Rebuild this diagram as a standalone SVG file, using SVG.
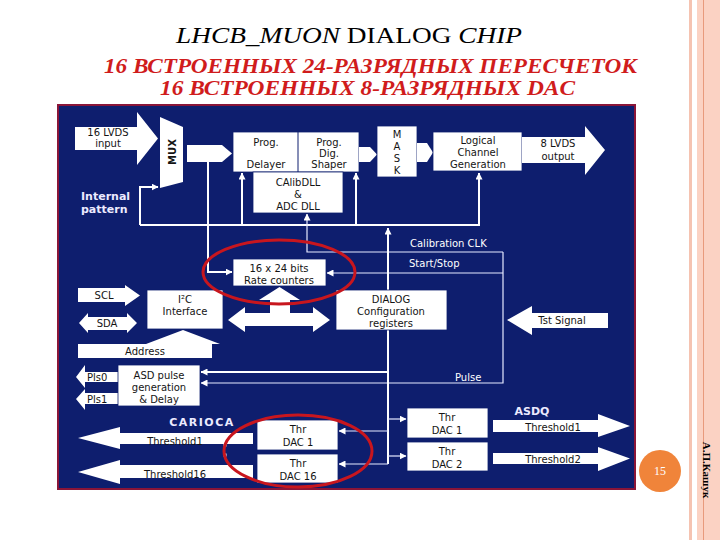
<svg xmlns="http://www.w3.org/2000/svg" width="720" height="540" viewBox="0 0 720 540">
<defs>
<marker id="ah" markerWidth="7" markerHeight="7" refX="6.5" refY="3.5" orient="auto" markerUnits="userSpaceOnUse"><path d="M0,0 L7,3.5 L0,7 z" fill="#ffffff"/></marker>
<style>
.box{fill:#ffffff;stroke:#0e1e6e;stroke-width:0.8}
.shape{fill:#ffffff}
.t{font-family:"DejaVu Sans",Verdana,sans-serif;font-size:10px;fill:#141414;text-anchor:middle}
.tw{font-family:"DejaVu Sans",Verdana,sans-serif;font-size:10px;fill:#ffffff}
.tb{font-family:"DejaVu Sans",Verdana,sans-serif;font-size:11px;font-weight:bold;fill:#ecebff}
.ln{fill:none;stroke:#ffffff;stroke-width:2}
.lt{fill:none;stroke:#e6e9ff;stroke-width:1.2}
.ell{fill:none;stroke:#c8161e;stroke-width:3}
.ru{font-family:"Liberation Serif","Times New Roman",serif;font-size:21px;font-weight:bold;font-style:italic;fill:#d01c1c}
</style>
</defs>
<rect width="720" height="540" fill="#ffffff"/>
<g id="slide-border">
<rect x="689" y="0" width="3" height="540" fill="#f5c3b1"/>
<rect x="697" y="0" width="23" height="540" fill="#fbd2c3"/>
<rect x="703" y="0" width="1" height="540" fill="#e89a7c"/>
</g>
<g id="title">
<text x="176" y="43" font-family="'Liberation Serif','Times New Roman',serif" font-size="24" fill="#000" textLength="346" lengthAdjust="spacingAndGlyphs"><tspan font-style="italic">LHCB_MUON</tspan> DIALOG <tspan font-style="italic">CHIP</tspan></text>
<text class="ru" x="104" y="73" textLength="533" lengthAdjust="spacingAndGlyphs">16 ВСТРОЕННЫХ 24-РАЗРЯДНЫХ ПЕРЕСЧЕТОК</text>
<text class="ru" x="160" y="95" textLength="415" lengthAdjust="spacingAndGlyphs">16 ВСТРОЕННЫХ 8-РАЗРЯДНЫХ DAC</text>
</g>
<rect id="chip" x="58" y="105" width="577" height="384" fill="#0e1e6e" stroke="#8a1538" stroke-width="2"/>

<g id="connectors">
<path class="ln" d="M140,225 V187 H158" marker-end="url(#ah)"/>
<path class="ln" d="M140,225 H479 V173" marker-end="url(#ah)"/>
<path class="ln" d="M242,225 V173" marker-end="url(#ah)"/>
<path class="ln" d="M356,225 V173" marker-end="url(#ah)"/>
<path class="ln" d="M208,162 V272 H232" marker-end="url(#ah)"/>
<path class="lt" d="M503,252 H307 V214" marker-end="url(#ah)"/>
<path class="lt" d="M503,273 H327" marker-end="url(#ah)"/>
<path class="lt" d="M503,252 V383 H201" marker-end="url(#ah)"/>
<path class="ln" d="M388,464 V228" marker-end="url(#ah)"/>
<path class="ln" d="M389,372 H201" marker-end="url(#ah)"/>
<path class="lt" d="M388,419 H406" marker-end="url(#ah)"/>
<path class="lt" d="M388,456 H406" marker-end="url(#ah)"/>
<path class="lt" d="M388,431 H339" marker-end="url(#ah)"/>
<path class="lt" d="M388,464 H339" marker-end="url(#ah)"/>
</g>

<g id="lvds-input">
<polygon class="shape" points="75,127 137,127 137,112 158,138.5 137,165 137,150 75,150"/>
<text class="t" x="108" y="136">16 LVDS</text>
<text class="t" x="108" y="147">input</text>
</g>
<g id="mux">
<polygon class="shape" points="160,117 183,127 183,182 160,188"/>
<text class="t" x="0" y="0" font-weight="bold" font-size="11" transform="translate(175.5,152) rotate(-90)">MUX</text>
</g>
<g id="mux-out"><polygon class="shape" points="187,145 222,145 232,153.5 222,162 187,162"/></g>
<g id="internal-pattern">
<text class="tb" x="81" y="200">Internal</text>
<text class="tb" x="81" y="213">pattern</text>
</g>
<g id="prog">
<rect class="box" x="233" y="132" width="126" height="40"/>
<line x1="298" y1="132" x2="298" y2="172" stroke="#0e1e6e" stroke-width="1"/>
<text class="t" x="266" y="146">Prog.</text>
<text class="t" x="266" y="168">Delayer</text>
<text class="t" x="329" y="146">Prog.</text>
<text class="t" x="329" y="157">Dig.</text>
<text class="t" x="329" y="168">Shaper</text>
</g>
<g id="calibdll">
<rect class="box" x="253" y="172" width="90" height="41"/>
<text class="t" x="298" y="186">CAlibDLL</text>
<text class="t" x="298" y="198">&amp;</text>
<text class="t" x="298" y="210">ADC DLL</text>
</g>
<g id="prog-out"><polygon class="shape" points="359,147 370,147 377,154.5 370,162 359,162"/></g>
<g id="mask">
<rect class="box" x="377" y="126" width="40" height="51"/>
<text class="t" x="397" y="138">M</text>
<text class="t" x="397" y="150">A</text>
<text class="t" x="397" y="162">S</text>
<text class="t" x="397" y="174">K</text>
</g>
<g id="mask-out"><polygon class="shape" points="417,143 427,143 433,152.5 427,162 417,162"/></g>
<g id="logical">
<rect class="box" x="433" y="132" width="89" height="39"/>
<text class="t" x="478" y="144">Logical</text>
<text class="t" x="478" y="156">Channel</text>
<text class="t" x="478" y="168">Generation</text>
</g>
<g id="lvds-output">
<polygon class="shape" points="522,137 585,137 585,126 605,150 585,175 585,163 522,163"/>
<text class="t" x="558" y="147">8 LVDS</text>
<text class="t" x="558" y="160">output</text>
</g>
<g id="labels">
<text class="tw" x="410" y="247">Calibration CLK</text>
<text class="tw" x="409" y="267">Start/Stop</text>
<text class="tw" x="455" y="381">Pulse</text>
</g>
<g id="rate-counters">
<rect class="box" x="233" y="259" width="93" height="27"/>
<text class="t" x="279" y="272">16 x 24 bits</text>
<text class="t" x="279" y="284">Rate counters</text>
</g>
<g id="scl">
<polygon class="shape" points="78,288 125,288 125,285 140,295.5 125,306 125,302 78,302"/>
<text class="t" x="104" y="299">SCL</text>
</g>
<g id="sda">
<polygon class="shape" points="79,323 88,313 88,317 127,317 127,313 137,323 127,333 127,330 88,330 88,333"/>
<text class="t" x="107" y="327">SDA</text>
</g>
<g id="i2c">
<rect class="box" x="147" y="290" width="76" height="39"/>
<text class="t" x="185" y="303">I²C</text>
<text class="t" x="185" y="315">Interface</text>
</g>
<g id="bus-arrow">
<polygon class="shape" points="228,320 245,307 245,313 270,313 270,300 259,300 279.5,287 300,300 290,300 290,313 313,313 313,307 330,320 313,332 313,326 245,326 245,332"/>
</g>
<g id="dialog">
<rect class="box" x="336" y="290" width="111" height="40"/>
<text class="t" x="391" y="303">DIALOG</text>
<text class="t" x="391" y="315">Configuration</text>
<text class="t" x="391" y="327">registers</text>
</g>
<g id="tst-signal">
<polygon class="shape" points="507,320 532,306 532,313 608,313 608,328 532,328 532,335"/>
<text class="t" x="562" y="324">Tst Signal</text>
</g>
<g id="address">
<polygon class="shape" points="78,358 78,344 146,344 183,330 220,344 212,344 212,358"/>
<text class="t" x="145" y="355">Address</text>
</g>
<g id="pls0">
<polygon class="shape" points="76,377 85,365 85,372 118,372 118,382 85,382 85,388"/>
<text class="t" x="87" y="381" style="text-anchor:start">Pls0</text>
</g>
<g id="pls1">
<polygon class="shape" points="76,399 85,389 85,393 118,393 118,404 85,404 85,410"/>
<text class="t" x="87" y="403" style="text-anchor:start">Pls1</text>
</g>
<g id="asd-pulse">
<rect class="box" x="118" y="365" width="82" height="41"/>
<text class="t" x="159" y="379">ASD pulse</text>
<text class="t" x="159" y="391">generation</text>
<text class="t" x="159" y="403">&amp; Delay</text>
</g>
<g id="carioca">
<text class="tb" x="202" y="426" text-anchor="middle" letter-spacing="1.5">CARIOCA</text>
<polygon class="shape" points="78,438 120,427 120,433 253,433 253,444 120,444 120,449"/>
<text class="t" x="175" y="445">Threshold1</text>
<polygon class="shape" points="78,472 120,460 120,465 253,465 253,478 120,478 120,484"/>
<text class="t" x="175" y="478">Threshold16</text>
<rect x="223.5" y="443.5" width="3" height="3" fill="#fff"/>
<rect x="223.5" y="453.5" width="3" height="3" fill="#fff"/>
</g>
<g id="carioca-dac1">
<rect class="box" x="257" y="420" width="81" height="30"/>
<text class="t" x="298" y="433">Thr</text>
<text class="t" x="298" y="446">DAC 1</text>
</g>
<g id="carioca-dac16">
<rect class="box" x="257" y="454" width="81" height="29"/>
<text class="t" x="298" y="467">Thr</text>
<text class="t" x="298" y="480">DAC 16</text>
</g>
<g id="asdq">
<text class="tb" x="532" y="415" text-anchor="middle">ASDQ</text>
<polygon class="shape" points="493,420 598,420 598,414 630,426 598,437 598,432 493,432"/>
<text class="t" x="553" y="431">Threshold1</text>
<polygon class="shape" points="493,453 598,453 598,447 630,458.5 598,471 598,464 493,464"/>
<text class="t" x="553" y="463">Threshold2</text>
</g>
<g id="asdq-dac1">
<rect class="box" x="407" y="408" width="81" height="30"/>
<text class="t" x="447" y="421">Thr</text>
<text class="t" x="447" y="434">DAC 1</text>
</g>
<g id="asdq-dac2">
<rect class="box" x="407" y="442" width="81" height="29"/>
<text class="t" x="447" y="455">Thr</text>
<text class="t" x="447" y="468">DAC 2</text>
</g>
<g id="highlights">
<ellipse class="ell" cx="279" cy="272" rx="76" ry="32"/>
<ellipse class="ell" cx="298" cy="451" rx="74" ry="36"/>
</g>
<g id="page-number">
<circle cx="660" cy="471" r="21" fill="#f0843a"/>
<text x="660" y="475" font-family="'Liberation Serif','Times New Roman',serif" font-size="12" fill="#ffffff" text-anchor="middle">15</text>
</g>
<text x="0" y="0" transform="translate(703,470) rotate(90)" font-family="'Liberation Serif','Times New Roman',serif" font-size="11" font-weight="bold" fill="#000" text-anchor="middle">А.П.Кашук</text>
</svg>
